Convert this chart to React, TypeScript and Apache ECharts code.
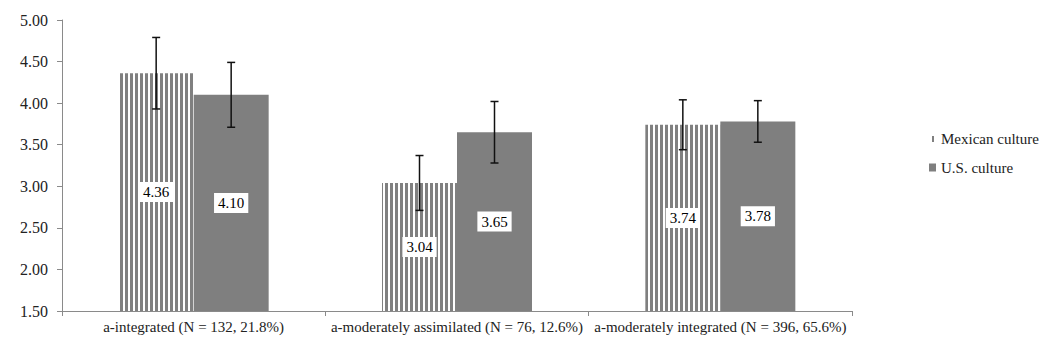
import React, { useEffect, useRef } from "react";
import * as echarts from "echarts";

const categories = [
  "a-integrated (N = 132, 21.8%)",
  "a-moderately assimilated (N = 76, 12.6%)",
  "a-moderately integrated (N = 396, 65.6%)",
];
const seriesNames = ["Mexican culture", "U.S. culture"];
const mexicanValues = [4.36, 3.04, 3.74];
const usValues = [4.1, 3.65, 3.78];
const mexicanErr = [0.43, 0.33, 0.3];
const usErr = [0.39, 0.37, 0.25];
const yTicks = { min: 1.5, max: 5, interval: 0.5 };

const SERIF = "Liberation Serif";

function makeStripes(): HTMLCanvasElement {
  const c = document.createElement("canvas");
  c.width = 5;
  c.height = 5;
  const ctx = c.getContext("2d")!;
  ctx.fillStyle = "#ffffff";
  ctx.fillRect(0, 0, 5, 5);
  ctx.fillStyle = "#808080";
  ctx.fillRect(0, 0, 3, 5);
  return c;
}

export default function App() {
  const ref = useRef<HTMLDivElement>(null);
  useEffect(() => {
    if (!ref.current) return;
    const chart = echarts.init(ref.current, undefined, { renderer: "svg" });
    const stripe = { image: makeStripes(), repeat: "repeat" } as any;
    const barWidth = 75;
    const errData: any[] = [];
    mexicanValues.forEach((v, i) =>
      errData.push([i, v - mexicanErr[i], v + mexicanErr[i], 0])
    );
    usValues.forEach((v, i) => errData.push([i, v - usErr[i], v + usErr[i], 1]));

    const labelStyle = {
      show: true,
      position: "inside",
      formatter: (p: any) => p.value.toFixed(2),
      color: "#000",
      fontFamily: SERIF,
      fontSize: 15,
      backgroundColor: "#fff",
      padding: [3, 4, 2, 4],
    };

    chart.setOption({
      animation: false,
      grid: { left: 62, right: 190, top: 20, bottom: 38, containLabel: false },
      legend: {
        orient: "vertical",
        left: 924,
        top: 126,
        itemWidth: 7,
        itemHeight: 8,
        itemGap: 14,
        textStyle: { fontFamily: SERIF, fontSize: 15, color: "#222", lineHeight: 15 },
        data: [
          {
            name: seriesNames[0],
            icon: "path://M0,0 M7,8 M3,1.5 L5,1.5 L5,7.5 L3,7.5 Z",
            itemStyle: { color: "#808080" },
          },
          { name: seriesNames[1], icon: "rect", itemStyle: { color: "#7f7f7f" } },
        ],
      },
      xAxis: {
        type: "category",
        data: categories,
        axisLine: { lineStyle: { color: "#8a8a8a", width: 1 } },
        axisTick: { show: true, length: 5, lineStyle: { color: "#8a8a8a" } },
        axisLabel: {
          fontFamily: SERIF,
          fontSize: 15,
          color: "#222",
          margin: 8,
          interval: 0,
        },
      },
      yAxis: {
        type: "value",
        min: yTicks.min,
        max: yTicks.max,
        interval: yTicks.interval,
        splitLine: { show: false },
        axisLine: { show: true, lineStyle: { color: "#8a8a8a", width: 1 } },
        axisTick: { show: true, length: 5, lineStyle: { color: "#8a8a8a" } },
        axisLabel: {
          fontFamily: SERIF,
          fontSize: 16,
          color: "#222",
          margin: 14,
          formatter: (v: number) => v.toFixed(2),
        },
      },
      series: [
        {
          name: seriesNames[0],
          type: "bar",
          data: mexicanValues,
          barWidth,
          barGap: "0%",
          itemStyle: { color: stripe },
          label: labelStyle,
        },
        {
          name: seriesNames[1],
          type: "bar",
          data: usValues,
          barWidth,
          barGap: "0%",
          itemStyle: { color: "#7f7f7f" },
          label: labelStyle,
        },
        {
          type: "custom",
          z: 10,
          silent: true,
          encode: { x: 0, y: [1, 2] },
          data: errData,
          renderItem: (params: any, api: any) => {
            const cat = api.value(0);
            const s = api.value(3);
            const lo = api.coord([cat, api.value(1)]);
            const hi = api.coord([cat, api.value(2)]);
            const x = lo[0] + (s === 0 ? -barWidth / 2 : barWidth / 2);
            const cap = 4;
            const style = { stroke: "#111", lineWidth: 1.5 };
            return {
              type: "group",
              children: [
                { type: "line", shape: { x1: x, y1: lo[1], x2: x, y2: hi[1] }, style },
                { type: "line", shape: { x1: x - cap, y1: hi[1], x2: x + cap, y2: hi[1] }, style },
                { type: "line", shape: { x1: x - cap, y1: lo[1], x2: x + cap, y2: lo[1] }, style },
              ],
            };
          },
        },
      ],
    });
    return () => chart.dispose();
  }, []);
  return (
    <div
      ref={ref}
      style={{ position: "fixed", left: 0, top: 0, width: 1042, height: 349, background: "#fff" }}
    />
  );
}
